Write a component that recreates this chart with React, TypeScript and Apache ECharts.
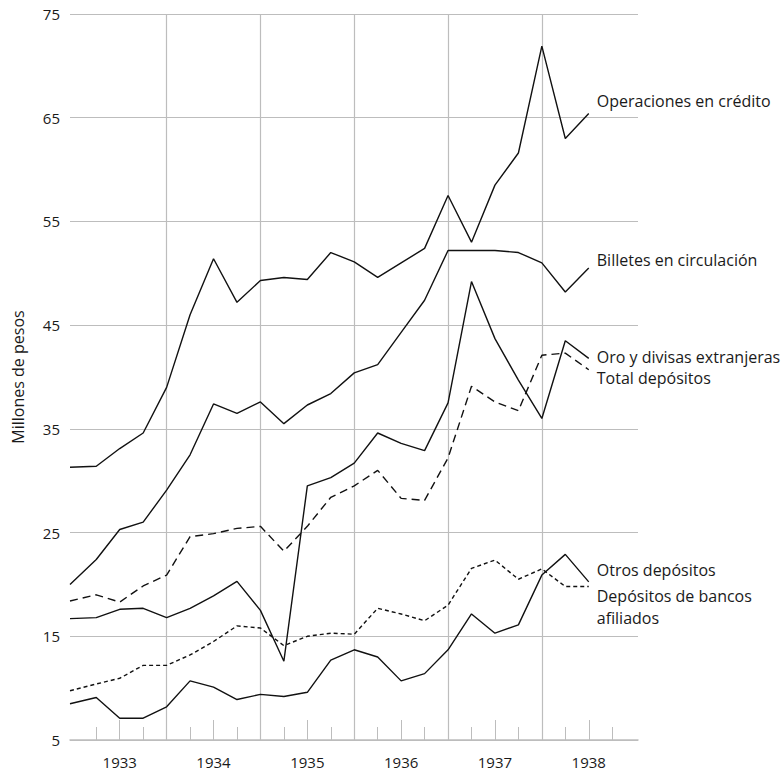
import React, { useEffect, useRef } from "react";
import * as echarts from "echarts";

// Quarter positions (0 = end of 1932, 4 = end of 1933, ...)
const quarters = [-0.12, 1, 2, 3, 4, 5, 6, 7, 8, 9, 10, 11, 12, 13, 14, 15, 16, 17, 18, 19, 20, 21, 22];

const operacionesCredito = [31.3, 31.4, 33.1, 34.6, 39.0, 46.0, 51.4, 47.2, 49.3, 49.6, 49.4, 52.0, 51.1, 49.6, 51.0, 52.4, 57.5, 53.0, 58.5, 61.6, 71.9, 63.0, 65.4];
const billetes = [20.0, 22.4, 25.3, 26.0, 29.1, 32.5, 37.4, 36.5, 37.6, 35.5, 37.3, 38.4, 40.4, 41.2, 44.3, 47.4, 52.2, 52.2, 52.2, 52.0, 51.0, 48.2, 50.5];
const oroDivisas = [16.7, 16.8, 17.6, 17.7, 16.8, 17.7, 18.9, 20.3, 17.5, 12.6, 29.5, 30.3, 31.7, 34.6, 33.6, 32.9, 37.5, 49.2, 43.7, 39.7, 36.0, 43.5, 41.8];
const totalDepositos = [18.4, 19.0, 18.3, 19.85, 20.9, 24.6, 24.9, 25.4, 25.6, 23.2, 25.6, 28.4, 29.5, 31.0, 28.3, 28.1, 32.2, 39.1, 37.6, 36.75, 42.1, 42.3, 40.7];
const bancosAfiliados = [9.75, 10.4, 10.95, 12.2, 12.2, 13.2, 14.5, 16.0, 15.8, 14.1, 15.0, 15.3, 15.2, 17.7, 17.15, 16.5, 18.0, 21.55, 22.35, 20.5, 21.5, 19.8, 19.8];
const otrosDepositos = [8.5, 9.1, 7.1, 7.1, 8.2, 10.7, 10.1, 8.9, 9.4, 9.2, 9.6, 12.7, 13.7, 13.0, 10.7, 11.4, 13.7, 17.15, 15.3, 16.1, 20.9, 22.9, 20.25];

const yearLabels = ["1933", "1934", "1935", "1936", "1937", "1938"];
const yearMidTicks = [2, 6, 10, 14, 18, 22];
const yearBoundaries = [4, 8, 12, 16, 20];
const quarterTicks = [1, 3, 5, 7, 9, 11, 13, 15, 17, 19, 21, 23];

const FONT = "'Open Sans', 'Noto Sans', sans-serif";
const GRAY = "#bdbdbd";
const INK = "#111";

function pairs(vals: number[]) {
  return vals.map((v, i) => [quarters[i], v]);
}

function lineSeries(
  name: string,
  vals: number[],
  type: "solid" | number[],
  label: string,
  dy: number
) {
  return {
    name,
    type: "line",
    xAxisIndex: 0,
    data: pairs(vals),
    showSymbol: false,
    symbol: "none",
    lineStyle: { color: INK, width: 1.4, type },
    endLabel: {
      show: true,
      formatter: label,
      distance: 8,
      offset: [0, dy],
      color: "#1a1a1a",
      fontFamily: FONT,
      fontSize: 16,
      lineHeight: 22,
    },
  };
}

export default function App() {
  const ref = useRef<HTMLDivElement>(null);
  useEffect(() => {
    if (!ref.current) return;
    const chart = echarts.init(ref.current, undefined, { renderer: "svg" });
    const baseX = {
      type: "value",
      min: -0.12,
      max: 24.1,
      position: "bottom",
      gridIndex: 0,
    };
    chart.setOption({
      animation: false,
      backgroundColor: "#fff",
      grid: { left: 70, right: 145, top: 14, bottom: 31 },
      xAxis: [
        {
          ...baseX,
          axisLine: { show: true, onZero: false, lineStyle: { color: GRAY, width: 1.5 } },
          axisTick: { show: true, inside: true, length: 13, customValues: quarterTicks, lineStyle: { color: GRAY, width: 1 } },
          axisLabel: { show: false },
          splitLine: { show: false },
        },
        {
          ...baseX,
          axisLine: { show: false, onZero: false },
          axisTick: { show: true, inside: true, length: 20, customValues: yearMidTicks, lineStyle: { color: GRAY, width: 1 } },
          axisLabel: {
            show: true,
            customValues: yearMidTicks,
            formatter: (v: number) => yearLabels[Math.round((v - 2) / 4)] ?? "",
            margin: 14,
            color: "#1a1a1a",
            fontFamily: FONT,
            fontSize: 15,
          },
          splitLine: { show: false },
        },
        {
          ...baseX,
          axisLine: { show: false, onZero: false },
          axisTick: { show: true, inside: true, length: 1, customValues: yearBoundaries, lineStyle: { color: GRAY, width: 1 } },
          axisLabel: { show: false },
          splitLine: { show: true, lineStyle: { color: GRAY, width: 1.2 } },
        },
      ],
      yAxis: {
        type: "value",
        min: 5,
        max: 75,
        interval: 10,
        name: "Millones de pesos",
        nameLocation: "middle",
        nameGap: 44,
        nameTextStyle: { color: "#1a1a1a", fontFamily: FONT, fontSize: 16 },
        axisLine: { show: false },
        axisTick: { show: false },
        axisLabel: { color: "#1a1a1a", fontFamily: FONT, fontSize: 15, margin: 10 },
        splitLine: { show: true, lineStyle: { color: GRAY, width: 1.2 } },
      },
      series: [
        lineSeries("Operaciones en crédito", operacionesCredito, "solid", "Operaciones en crédito", -13),
        lineSeries("Billetes en circulación", billetes, "solid", "Billetes en circulación", -8),
        lineSeries("Oro y divisas extranjeras", oroDivisas, "solid", "Oro y divisas extranjeras", -1),
        lineSeries("Total depósitos", totalDepositos, [8, 5], "Total depósitos", 8),
        lineSeries("Otros depósitos", otrosDepositos, "solid", "Otros depósitos", -12),
        lineSeries("Depósitos de bancos afiliados", bancosAfiliados, [4, 3], "Depósitos de bancos\nafiliados", 20),
      ],
    });
    return () => chart.dispose();
  }, []);
  return (
    <div
      ref={ref}
      style={{ position: "fixed", left: 0, top: 0, width: 783, height: 771, background: "#fff" }}
    />
  );
}
